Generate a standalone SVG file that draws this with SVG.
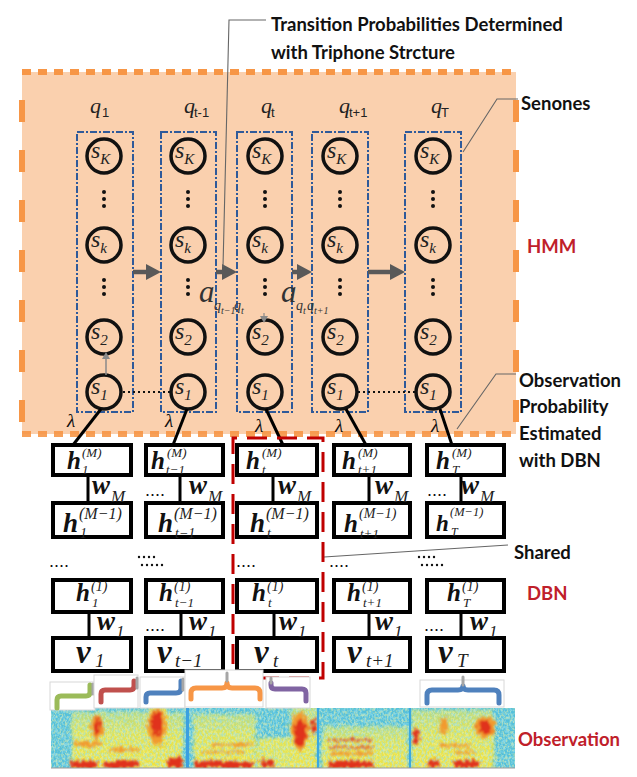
<svg xmlns="http://www.w3.org/2000/svg" width="637" height="777" viewBox="0 0 637 777">
<style>
.lbl{font-family:Lato,"Open Sans",sans-serif;font-weight:bold;font-size:18.5px;fill:#111}
.red{fill:#C0202A}
.colbox{fill:none;stroke:#2F5A9A;stroke-width:2;stroke-dasharray:7 2 2 2}
.state{fill:none;stroke:#111;stroke-width:3.5}
.s{font-family:"Liberation Serif",serif;font-style:italic;font-size:24px;fill:#222}
.ssub{font-size:15px}
.q{font-family:"Liberation Serif",serif;font-style:italic;font-size:22px;fill:#222}
.qsub{font-family:"Liberation Sans",sans-serif;font-size:13px;fill:#222}
.dot{fill:#111}
.arrow{stroke:#595959;stroke-width:4.5;fill:none}
.lead{stroke:#666;stroke-width:1.1;fill:none}
.lam{stroke:#000;stroke-width:3;fill:none}
.lamt{font-family:"Liberation Serif",serif;font-style:italic;font-size:19px;fill:#111}
.dbn{fill:#fff;stroke:#000;stroke-width:4}
.vl{stroke:#000;stroke-width:3}
.h{font-family:"Liberation Serif",serif;font-weight:bold;font-style:italic;fill:#111}
.it{font-family:"Liberation Serif",serif;font-style:italic;fill:#222}
.w{font-family:"Liberation Serif",serif;font-weight:bold;font-style:italic;font-size:27px;fill:#111}
.dots{font-family:"Liberation Sans",sans-serif;font-size:18px;fill:#111}
.a{font-family:"Liberation Serif",serif;font-style:italic;fill:#333}
.brbox{fill:#fff;stroke:#d8d8d8;stroke-width:1}
.br{fill:none;stroke-width:5;stroke-linecap:round;stroke-linejoin:round}
.tip{stroke:#A6A6A6;stroke-width:3;stroke-linecap:round}
.oh{stroke:#F79646;stroke-width:6;stroke-dasharray:9 7}
.ov{stroke:#F79646;stroke-width:6;stroke-dasharray:22 28;stroke-dashoffset:22}
.hot{fill:#E0321E}
.warm{fill:#F29A2E}
</style>
<defs>
<marker id="bigHead" markerUnits="userSpaceOnUse" markerWidth="15" markerHeight="16" refX="0" refY="8" orient="auto">
<path d="M0,0 L15,8 L0,16 z" fill="#595959"/>
</marker>
<marker id="smallHead" markerUnits="userSpaceOnUse" markerWidth="7" markerHeight="8" refX="0" refY="4" orient="auto">
<path d="M0,0 L7,4 L0,8 z" fill="#8a8a8a"/>
</marker>
<filter id="rough" x="-10%" y="-20%" width="120%" height="140%">
<feTurbulence type="fractalNoise" baseFrequency="0.4 0.2" numOctaves="2" seed="3" result="n"/>
<feDisplacementMap in="SourceGraphic" in2="n" scale="10" xChannelSelector="R" yChannelSelector="G" result="d"/>
<feGaussianBlur in="d" stdDeviation="0.9"/>
</filter>
<filter id="speckle" x="0" y="0" width="100%" height="100%">
<feTurbulence type="fractalNoise" baseFrequency="0.5 0.3" numOctaves="2" seed="7" result="n"/>
<feColorMatrix in="n" type="matrix" values="0 0 0 0 0.33  0 0 0 0 0.76  0 0 0 0 0.86  4.2 0 0 0 -1.75"/>
</filter>
<filter id="speckleY" x="0" y="0" width="100%" height="100%">
<feTurbulence type="fractalNoise" baseFrequency="0.55 0.35" numOctaves="2" seed="11" result="n"/>
<feColorMatrix in="n" type="matrix" values="0 0 0 0 0.92  0 0 0 0 0.9  0 0 0 0 0.35  4.2 0 0 0 -1.9"/>
</filter>
<clipPath id="specClip"><rect x="51" y="708" width="464" height="60"/></clipPath>
<linearGradient id="speech" x1="0" y1="0" x2="0" y2="1">
<stop offset="0" stop-color="#B3DA88"/>
<stop offset="0.35" stop-color="#E0E357"/>
<stop offset="1" stop-color="#F3E23E"/>
</linearGradient>
</defs>

<!-- HMM region -->
<g id="hmm-region">
<rect x="22" y="72" width="494" height="362" fill="#FAD0AE"/>
<line class="oh" x1="22" y1="72" x2="516" y2="72"/>
<line class="oh" x1="22" y1="434" x2="516" y2="434" opacity="0.9"/>
<line class="ov" x1="22" y1="72" x2="22" y2="434"/>
<line class="ov" x1="516" y1="72" x2="516" y2="434"/>
</g>

<!-- column labels -->
<g id="q-labels">
<text class="q" x="90" y="113">q</text><text class="qsub" x="102" y="117">1</text>
<text class="q" x="184" y="113">q</text><text class="qsub" x="194" y="117">t-1</text>
<text class="q" x="261" y="113">q</text><text class="qsub" x="271" y="117">t</text>
<text class="q" x="339" y="113">q</text><text class="qsub" x="349" y="117">t+1</text>
<text class="q" x="431" y="113">q</text><text class="qsub" x="441" y="117">T</text>
</g>

<!-- HMM columns -->
<g id="col-1">
<rect class="colbox" x="77" y="132" width="56" height="280"/>
<g id="c1-sK"><circle class="state" cx="104" cy="156" r="17"/><text class="s" x="91" y="158">s<tspan class="ssub" dy="6">K</tspan></text></g>
<g id="c1-sk"><circle class="state" cx="104" cy="245" r="17"/><text class="s" x="91" y="247">s<tspan class="ssub" dy="6">k</tspan></text></g>
<g id="c1-s2"><circle class="state" cx="104" cy="337" r="17"/><text class="s" x="91" y="339">s<tspan class="ssub" dy="6">2</tspan></text></g>
<g id="c1-s1"><circle class="state" cx="104" cy="392" r="17"/><text class="s" x="91" y="394">s<tspan class="ssub" dy="6">1</tspan></text></g>
<circle class="dot" cx="104" cy="192" r="2"/><circle class="dot" cx="104" cy="199" r="2"/><circle class="dot" cx="104" cy="206" r="2"/>
<circle class="dot" cx="104" cy="280" r="2"/><circle class="dot" cx="104" cy="287" r="2"/><circle class="dot" cx="104" cy="294" r="2"/>
</g>
<g id="col-2">
<rect class="colbox" x="161" y="132" width="55" height="280"/>
<g id="c2-sK"><circle class="state" cx="188" cy="156" r="17"/><text class="s" x="175" y="158">s<tspan class="ssub" dy="6">K</tspan></text></g>
<g id="c2-sk"><circle class="state" cx="188" cy="245" r="17"/><text class="s" x="175" y="247">s<tspan class="ssub" dy="6">k</tspan></text></g>
<g id="c2-s2"><circle class="state" cx="188" cy="337" r="17"/><text class="s" x="175" y="339">s<tspan class="ssub" dy="6">2</tspan></text></g>
<g id="c2-s1"><circle class="state" cx="188" cy="392" r="17"/><text class="s" x="175" y="394">s<tspan class="ssub" dy="6">1</tspan></text></g>
<circle class="dot" cx="188" cy="192" r="2"/><circle class="dot" cx="188" cy="199" r="2"/><circle class="dot" cx="188" cy="206" r="2"/>
<circle class="dot" cx="188" cy="280" r="2"/><circle class="dot" cx="188" cy="287" r="2"/><circle class="dot" cx="188" cy="294" r="2"/>
</g>
<g id="col-3">
<rect class="colbox" x="237" y="132" width="55" height="280"/>
<g id="c3-sK"><circle class="state" cx="265" cy="156" r="17"/><text class="s" x="252" y="158">s<tspan class="ssub" dy="6">K</tspan></text></g>
<g id="c3-sk"><circle class="state" cx="265" cy="245" r="17"/><text class="s" x="252" y="247">s<tspan class="ssub" dy="6">k</tspan></text></g>
<g id="c3-s2"><circle class="state" cx="265" cy="337" r="17"/><text class="s" x="252" y="339">s<tspan class="ssub" dy="6">2</tspan></text></g>
<g id="c3-s1"><circle class="state" cx="265" cy="392" r="17"/><text class="s" x="252" y="394">s<tspan class="ssub" dy="6">1</tspan></text></g>
<circle class="dot" cx="265" cy="192" r="2"/><circle class="dot" cx="265" cy="199" r="2"/><circle class="dot" cx="265" cy="206" r="2"/>
<circle class="dot" cx="265" cy="280" r="2"/><circle class="dot" cx="265" cy="287" r="2"/><circle class="dot" cx="265" cy="294" r="2"/>
</g>
<g id="col-4">
<rect class="colbox" x="312" y="132" width="56" height="280"/>
<g id="c4-sK"><circle class="state" cx="340" cy="156" r="17"/><text class="s" x="327" y="158">s<tspan class="ssub" dy="6">K</tspan></text></g>
<g id="c4-sk"><circle class="state" cx="340" cy="245" r="17"/><text class="s" x="327" y="247">s<tspan class="ssub" dy="6">k</tspan></text></g>
<g id="c4-s2"><circle class="state" cx="340" cy="337" r="17"/><text class="s" x="327" y="339">s<tspan class="ssub" dy="6">2</tspan></text></g>
<g id="c4-s1"><circle class="state" cx="340" cy="392" r="17"/><text class="s" x="327" y="394">s<tspan class="ssub" dy="6">1</tspan></text></g>
<circle class="dot" cx="340" cy="192" r="2"/><circle class="dot" cx="340" cy="199" r="2"/><circle class="dot" cx="340" cy="206" r="2"/>
<circle class="dot" cx="340" cy="280" r="2"/><circle class="dot" cx="340" cy="287" r="2"/><circle class="dot" cx="340" cy="294" r="2"/>
</g>
<g id="col-5">
<rect class="colbox" x="405" y="132" width="56" height="280"/>
<g id="c5-sK"><circle class="state" cx="433" cy="156" r="17"/><text class="s" x="420" y="158">s<tspan class="ssub" dy="6">K</tspan></text></g>
<g id="c5-sk"><circle class="state" cx="433" cy="245" r="17"/><text class="s" x="420" y="247">s<tspan class="ssub" dy="6">k</tspan></text></g>
<g id="c5-s2"><circle class="state" cx="433" cy="337" r="17"/><text class="s" x="420" y="339">s<tspan class="ssub" dy="6">2</tspan></text></g>
<g id="c5-s1"><circle class="state" cx="433" cy="392" r="17"/><text class="s" x="420" y="394">s<tspan class="ssub" dy="6">1</tspan></text></g>
<circle class="dot" cx="433" cy="192" r="2"/><circle class="dot" cx="433" cy="199" r="2"/><circle class="dot" cx="433" cy="206" r="2"/>
<circle class="dot" cx="433" cy="280" r="2"/><circle class="dot" cx="433" cy="287" r="2"/><circle class="dot" cx="433" cy="294" r="2"/>
</g>

<!-- transition labels -->
<g id="transition-labels">
<text class="a" x="199" y="302" font-size="31">a</text>
<text class="a" x="214" y="310" font-size="14">q</text><text class="a" x="221" y="314" font-size="10">t−1</text>
<text class="a" x="234" y="310" font-size="14">q</text><text class="a" x="241" y="314" font-size="10">t</text>
<text class="a" x="281" y="302" font-size="31">a</text>
<text class="a" x="296" y="310" font-size="14">q</text><text class="a" x="303" y="314" font-size="10">t</text>
<text class="a" x="307" y="310" font-size="14">q</text><text class="a" x="314" y="314" font-size="10">t+1</text>
</g>

<!-- DBN nodes -->
<g id="dbn-h1M"><rect class="dbn" x="53" y="445" width="78" height="30"/><text class="h" x="67" y="469" font-size="25">h</text><text class="it" x="82" y="457" font-size="13">(M)</text><text class="it" x="82" y="474" font-size="13">1</text></g>
<g id="dbn-ht-1M"><rect class="dbn" x="146" y="445" width="77" height="30"/><text class="h" x="151" y="469" font-size="25">h</text><text class="it" x="167" y="457" font-size="13">(M)</text><text class="it" x="166" y="474" font-size="13">t−1</text></g>
<g id="dbn-htM"><rect class="dbn" x="237" y="445" width="80" height="30"/><text class="h" x="246" y="469" font-size="25">h</text><text class="it" x="262" y="457" font-size="13">(M)</text><text class="it" x="262" y="474" font-size="13">t</text></g>
<g id="dbn-ht+1M"><rect class="dbn" x="334" y="445" width="76" height="30"/><text class="h" x="342" y="469" font-size="25">h</text><text class="it" x="358" y="457" font-size="13">(M)</text><text class="it" x="358" y="474" font-size="13">t+1</text></g>
<g id="dbn-hTM"><rect class="dbn" x="427" y="445" width="77" height="30"/><text class="h" x="436" y="469" font-size="25">h</text><text class="it" x="452" y="457" font-size="13">(M)</text><text class="it" x="452" y="474" font-size="13">T</text></g>

<g id="dbn-h1M-1"><rect class="dbn" x="53" y="503" width="78" height="34"/><text class="h" x="63" y="532" font-size="27">h</text><text class="it" x="79" y="519" font-size="16">(M−1)</text><text class="it" x="80" y="538" font-size="14">1</text></g>
<g id="dbn-ht-1M-1"><rect class="dbn" x="146" y="503" width="77" height="34"/><text class="h" x="158" y="532" font-size="27">h</text><text class="it" x="174" y="519" font-size="16">(M−1)</text><text class="it" x="175" y="538" font-size="14">t−1</text></g>
<g id="dbn-htM-1"><rect class="dbn" x="237" y="503" width="80" height="34"/><text class="h" x="250" y="532" font-size="27">h</text><text class="it" x="266" y="519" font-size="16">(M−1)</text><text class="it" x="267" y="538" font-size="14">t</text></g>
<g id="dbn-ht+1M-1"><rect class="dbn" x="334" y="503" width="76" height="34"/><text class="h" x="344" y="532" font-size="25">h</text><text class="it" x="359" y="518" font-size="14">(M−1)</text><text class="it" x="360" y="538" font-size="13">t+1</text></g>
<g id="dbn-hTM-1"><rect class="dbn" x="427" y="503" width="77" height="34"/><text class="h" x="436" y="531" font-size="23">h</text><text class="it" x="450" y="516" font-size="12.5">(M−1)</text><text class="it" x="451" y="536" font-size="12">T</text></g>

<g id="dbn-h11"><rect class="dbn" x="53" y="580" width="78" height="32"/><text class="h" x="76" y="601" font-size="25">h</text><text class="it" x="91" y="591" font-size="14">(1)</text><text class="it" x="92" y="607" font-size="13">1</text></g>
<g id="dbn-ht-11"><rect class="dbn" x="146" y="580" width="77" height="32"/><text class="h" x="159" y="601" font-size="25">h</text><text class="it" x="174" y="591" font-size="14">(1)</text><text class="it" x="175" y="607" font-size="13">t−1</text></g>
<g id="dbn-ht1"><rect class="dbn" x="237" y="580" width="80" height="32"/><text class="h" x="252" y="601" font-size="25">h</text><text class="it" x="267" y="591" font-size="14">(1)</text><text class="it" x="268" y="607" font-size="13">t</text></g>
<g id="dbn-ht+11"><rect class="dbn" x="334" y="580" width="76" height="32"/><text class="h" x="347" y="601" font-size="25">h</text><text class="it" x="362" y="591" font-size="14">(1)</text><text class="it" x="363" y="607" font-size="13">t+1</text></g>
<g id="dbn-hT1"><rect class="dbn" x="427" y="580" width="77" height="32"/><text class="h" x="447" y="601" font-size="25">h</text><text class="it" x="462" y="591" font-size="14">(1)</text><text class="it" x="463" y="607" font-size="13">T</text></g>

<g id="dbn-v1"><rect class="dbn" x="53" y="638" width="78" height="33"/><text class="h" x="76" y="663" font-size="33">v</text><text class="it" x="95" y="667" font-size="19">1</text></g>
<g id="dbn-vt-1"><rect class="dbn" x="146" y="638" width="77" height="33"/><text class="h" x="157" y="663" font-size="33">v</text><text class="it" x="175" y="667" font-size="19">t−1</text></g>
<g id="dbn-vt"><rect class="dbn" x="237" y="638" width="80" height="33"/><text class="h" x="254" y="663" font-size="33">v</text><text class="it" x="273" y="667" font-size="19">t</text></g>
<g id="dbn-vt+1"><rect class="dbn" x="334" y="638" width="76" height="33"/><text class="h" x="347" y="663" font-size="33">v</text><text class="it" x="366" y="667" font-size="19">t+1</text></g>
<g id="dbn-vT"><rect class="dbn" x="427" y="638" width="77" height="33"/><text class="h" x="438" y="663" font-size="33">v</text><text class="it" x="457" y="667" font-size="19">T</text></g>

<!-- weight labels and ellipses -->
<g id="weights">
<text class="w" x="92" y="494">w</text><text class="it" x="111" y="502" font-size="17">M</text>
<text class="w" x="189" y="494">w</text><text class="it" x="208" y="502" font-size="17">M</text>
<text class="w" x="278" y="494">w</text><text class="it" x="297" y="502" font-size="17">M</text>
<text class="w" x="375" y="494">w</text><text class="it" x="394" y="502" font-size="17">M</text>
<text class="w" x="461" y="494">w</text><text class="it" x="480" y="502" font-size="17">M</text>
<text class="w" x="97" y="630">w</text><text class="it" x="116" y="637" font-size="17">1</text>
<text class="w" x="189" y="630">w</text><text class="it" x="208" y="637" font-size="17">1</text>
<text class="w" x="279" y="630">w</text><text class="it" x="298" y="637" font-size="17">1</text>
<text class="w" x="375" y="630">w</text><text class="it" x="394" y="637" font-size="17">1</text>
<text class="w" x="470" y="630">w</text><text class="it" x="489" y="637" font-size="17">1</text>
<text class="dots" x="145" y="496">....</text>
<text class="dots" x="427" y="496">....</text>
<text class="dots" x="145" y="631">....</text>
<text class="dots" x="424" y="631">....</text>
<text class="dots" x="49" y="567">....</text>
<text class="dots" x="236" y="567">....</text>
<text class="dots" x="329" y="567">....</text>
</g>
<g id="double-dots" fill="#111">
<circle cx="139" cy="557" r="1.2"/><circle cx="144" cy="557" r="1.2"/><circle cx="149" cy="557" r="1.2"/><circle cx="154" cy="557" r="1.2"/>
<circle cx="142" cy="565" r="1.2"/><circle cx="147" cy="565" r="1.2"/><circle cx="152" cy="565" r="1.2"/><circle cx="157" cy="565" r="1.2"/><circle cx="162" cy="565" r="1.2"/>
<circle cx="419" cy="557" r="1.2"/><circle cx="424" cy="557" r="1.2"/><circle cx="429" cy="557" r="1.2"/><circle cx="434" cy="557" r="1.2"/>
<circle cx="422" cy="565" r="1.2"/><circle cx="427" cy="565" r="1.2"/><circle cx="432" cy="565" r="1.2"/><circle cx="437" cy="565" r="1.2"/><circle cx="442" cy="565" r="1.2"/>
</g>

<!-- connectors -->
<g id="connectors">
<line class="arrow" x1="133" y1="272" x2="146" y2="272" marker-end="url(#bigHead)"/>
<line class="arrow" x1="216" y1="272" x2="222" y2="272" marker-end="url(#bigHead)"/>
<line class="arrow" x1="292" y1="272" x2="297" y2="272" marker-end="url(#bigHead)"/>
<line class="arrow" x1="368" y1="272" x2="390" y2="272" marker-end="url(#bigHead)"/>
<line x1="106" y1="375" x2="106" y2="359" stroke="#8a8a8a" stroke-width="1.5" marker-end="url(#smallHead)"/>
<line x1="264" y1="313" x2="264" y2="316" stroke="#8a8a8a" stroke-width="1.2" marker-end="url(#smallHead)"/>
<line x1="123" y1="392" x2="170" y2="392" stroke="#111" stroke-width="1.8" stroke-dasharray="2 3"/>
<line x1="358" y1="392" x2="415" y2="392" stroke="#111" stroke-width="1.8" stroke-dasharray="2 3"/>
<line class="lam" x1="101" y1="409" x2="73" y2="445"/>
<line class="lam" x1="187" y1="409" x2="173" y2="445"/>
<line class="lam" x1="266" y1="409" x2="283" y2="445"/>
<line class="lam" x1="346" y1="409" x2="366" y2="445"/>
<line class="lam" x1="440" y1="409" x2="452" y2="445"/>
<line class="vl" x1="88" y1="475" x2="88" y2="503"/>
<line class="vl" x1="180" y1="475" x2="180" y2="503"/>
<line class="vl" x1="273" y1="475" x2="273" y2="503"/>
<line class="vl" x1="369" y1="475" x2="369" y2="503"/>
<line class="vl" x1="461" y1="475" x2="461" y2="503"/>
<line class="vl" x1="89" y1="612" x2="89" y2="638"/>
<line class="vl" x1="181" y1="612" x2="181" y2="638"/>
<line class="vl" x1="274" y1="612" x2="274" y2="638"/>
<line class="vl" x1="369" y1="612" x2="369" y2="638"/>
<line class="vl" x1="461" y1="612" x2="461" y2="638"/>
<polyline class="lead" points="266,20 229,20 223,267"/>
<polyline class="lead" points="518,99 497,99 463,152"/>
<polyline class="lead" points="516,374 496,374 457,429"/>
<polyline class="lead" points="324,557 508,545"/>
</g>

<g id="lambda-labels">
<text class="lamt" x="67" y="427">λ</text>
<text class="lamt" x="165" y="427">λ</text>
<text class="lamt" x="255" y="432">λ</text>
<text class="lamt" x="335" y="432">λ</text>
<text class="lamt" x="431" y="432">λ</text>
</g>

<!-- shared region -->
<rect id="shared-region" x="233" y="438" width="90" height="240" fill="none" stroke="#C00000" stroke-width="3" stroke-dasharray="20 10" stroke-dashoffset="-14"/>

<!-- spectrogram -->
<g id="observation-spectrogram">
<g clip-path="url(#specClip)">
<rect x="51" y="708" width="464" height="60" fill="#55C0DA"/>
<g filter="url(#rough)">
<rect x="72" y="712" width="111" height="60" fill="url(#speech)"/>
<rect x="194" y="714" width="62" height="58" fill="url(#speech)"/>
<rect x="257" y="738" width="33" height="34" fill="#E4E452"/>
<rect x="290" y="706" width="27" height="66" fill="url(#speech)"/>
<rect x="322" y="726" width="86" height="46" fill="url(#speech)"/>
<rect x="412" y="710" width="82" height="62" fill="url(#speech)"/>
<rect x="148" y="706" width="20" height="40" fill="#EADB40"/>
</g>
<rect x="51" y="708" width="464" height="60" filter="url(#speckle)" opacity="0.6"/>
<rect x="51" y="708" width="464" height="60" filter="url(#speckleY)" opacity="0.45"/>
<g filter="url(#rough)">
<ellipse class="warm" cx="97" cy="728" rx="6" ry="12"/>
<ellipse class="warm" cx="157" cy="727" rx="9" ry="18"/>
<ellipse class="warm" cx="300" cy="731" rx="9" ry="19"/>
<ellipse class="warm" cx="485" cy="727" rx="10" ry="11"/>
<ellipse class="hot" cx="97" cy="726" rx="3.5" ry="8"/>
<ellipse class="hot" cx="157" cy="724" rx="6" ry="13"/>
<ellipse class="hot" cx="300" cy="733" rx="6" ry="14"/>
<ellipse class="hot" cx="314" cy="727" rx="2.5" ry="8"/>
<ellipse class="hot" cx="416" cy="737" rx="3.5" ry="8"/>
<ellipse class="warm" cx="444" cy="726" rx="4" ry="9"/>
<ellipse class="hot" cx="485" cy="727" rx="6" ry="7"/>
<rect class="warm" x="74" y="742" width="28" height="4"/>
<rect class="warm" x="110" y="748" width="30" height="3"/>
<rect class="warm" x="212" y="743" width="40" height="3"/>
<rect class="warm" x="200" y="751" width="45" height="2"/>
<rect class="hot" x="330" y="739" width="42" height="2.5" opacity="0.8"/>
<rect class="hot" x="330" y="746" width="42" height="2.5" opacity="0.8"/>
<rect class="warm" x="330" y="752" width="42" height="3"/>
<rect class="warm" x="440" y="744" width="30" height="3"/>
<rect class="warm" x="455" y="751" width="20" height="2.5"/>
<rect class="hot" x="72" y="761" width="25" height="7"/>
<rect class="hot" x="104" y="761" width="35" height="7"/>
<rect class="hot" x="168" y="757" width="15" height="11"/>
<rect class="hot" x="195" y="761" width="58" height="7"/>
<rect class="hot" x="261" y="760" width="12" height="8"/>
<rect class="hot" x="328" y="761" width="45" height="7"/>
<rect class="hot" x="428" y="760" width="12" height="8"/>
<rect class="hot" x="454" y="760" width="25" height="8"/>
</g>
<rect x="186" y="708" width="3" height="60" fill="#3AA0E0"/>
<rect x="317" y="708" width="2" height="60" fill="#3AA8E0"/>
<rect x="409" y="708" width="2" height="60" fill="#3AA8E0"/>
</g>
<line x1="51" y1="768" x2="515" y2="768" stroke="#999" stroke-width="1"/>
</g>

<!-- segment brackets -->
<g id="bracket-green"><rect class="brbox" x="50" y="682" width="45" height="28"/><path class="br" stroke="#9BBB59" d="M57,708 L57,700 Q57,696 61,696 L86,696 Q90,696 90,692 L90,685"/><line class="tip" x1="93" y1="684" x2="93" y2="694"/></g>
<g id="bracket-red"><rect class="brbox" x="94" y="675" width="44" height="33"/><path class="br" stroke="#C0504D" d="M101,702 L101,694 Q101,690 105,690 L130,690 Q134,690 134,686 L134,681"/><line class="tip" x1="137" y1="678" x2="137" y2="688"/></g>
<g id="bracket-blue1"><rect class="brbox" x="140" y="677" width="45" height="31"/><path class="br" stroke="#4F81BD" d="M146,702 L146,697 Q146,693 150,693 L176,693 Q181,693 181,688 L181,681"/><line class="tip" x1="183" y1="679" x2="183" y2="690"/></g>
<g id="bracket-orange"><rect class="brbox" x="185" y="670" width="78" height="37"/><path class="br" stroke="#F79646" d="M191,699 L191,693 Q191,688 196,688 L222,688 Q227,688 227,683 Q227,688 232,688 L255,688 Q260,688 260,693 L260,699"/><line class="tip" x1="227" y1="673" x2="227" y2="681"/></g>
<g id="bracket-purple"><rect class="brbox" x="266" y="677" width="44" height="31"/><path class="br" stroke="#8064A2" d="M271,683 L271,685 Q271,689 275,689 L302,689 Q306,689 306,693 L306,701"/><line class="tip" x1="271" y1="678" x2="271" y2="683"/></g>
<g id="bracket-blue2"><rect class="brbox" x="420" y="680" width="84" height="27"/><path class="br" stroke="#4F81BD" d="M427,703 L427,695 Q427,690 432,690 L458,690 Q463,690 463,686 Q463,690 468,690 L494,690 Q499,690 499,695 L499,703"/><line class="tip" x1="463" y1="677" x2="463" y2="685"/></g>

<!-- annotations -->
<g id="annotations">
<text class="lbl" x="271" y="31">Transition Probabilities Determined</text>
<text class="lbl" x="271" y="59">with Triphone Strcture</text>
<text class="lbl" x="521" y="110">Senones</text>
<text class="lbl red" x="527" y="253">HMM</text>
<text class="lbl" x="519" y="387">Observation</text>
<text class="lbl" x="519" y="413">Probability</text>
<text class="lbl" x="519" y="440">Estimated</text>
<text class="lbl" x="519" y="467">with DBN</text>
<text class="lbl" x="514" y="559">Shared</text>
<text class="lbl red" x="527" y="600">DBN</text>
<text class="lbl red" x="518" y="746">Observation</text>
</g>
</svg>
